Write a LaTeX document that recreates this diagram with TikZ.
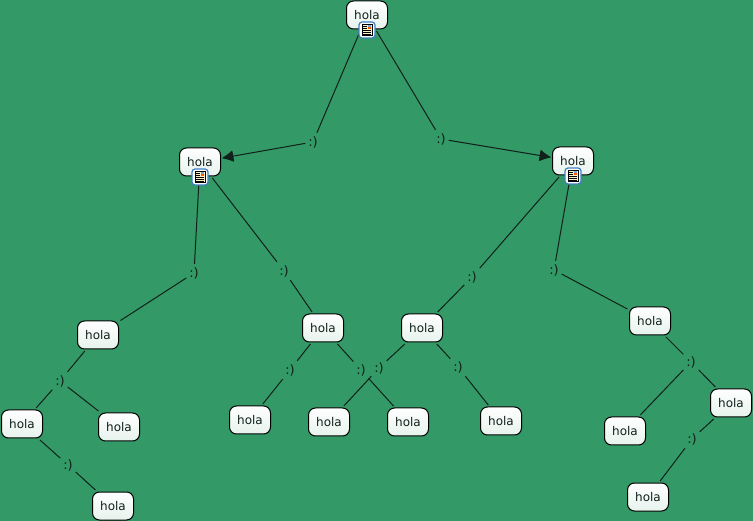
\documentclass[tikz,border=0pt]{standalone}
\usepackage{fontspec}
\setmainfont{DejaVu Sans}
\usetikzlibrary{arrows.meta}
\definecolor{bggreen}{HTML}{339966}
\definecolor{ink}{HTML}{10201A}
\definecolor{iconblue}{HTML}{3F7FC0}
\definecolor{paper}{HTML}{FBF3C8}
\tikzset{x=1pt,y=-1pt,
 hola/.style={draw=black,line width=1pt,rounded corners=7pt,minimum width=41pt,minimum height=28pt,inner sep=0pt,outer sep=2pt,top color=white,bottom color=white!88!bggreen,text=ink,font=\fontsize{12}{14}\selectfont},
 smile/.style={inner sep=0pt,minimum width=15pt,minimum height=18pt,text=ink,font=\fontsize{13}{15}\selectfont},
 link/.style={draw=ink,line width=1pt},
 arrowlink/.style={link,-{Latex[length=12pt,width=12pt,round=false]}},
 iconbox/.style={draw=iconblue,fill=white,line width=1.2pt,rounded corners=3pt,minimum size=16pt,inner sep=0pt}
}
\newcommand{\docicon}[2]{%
 \node[iconbox] (#1) at #2 {};
 \begin{scope}[shift={#2}]
  \fill[paper,draw=black,line width=.9pt] (-5,-5.5) rectangle (5,5.5);
  \fill[iconblue!70!white] (0.5,-4.5) rectangle (4,-2.5);
  \fill[orange!70!red] (0.5,-2.5) rectangle (4,-1);
  \foreach \yy in {-3.5,-1.5,0.5,2.5,4.2}{\draw[black,line width=.6pt] (-3.8,\yy) -- ({\yy<0?-0.5:3.8},\yy);}
 \end{scope}}
\begin{document}
\begin{tikzpicture}
\useasboundingbox[fill=bggreen] (0,0) rectangle (753,521);
\node[hola] (top) at (367,15) {hola};
\node[hola] (L) at (200,162) {hola};
\node[hola] (R) at (573,161) {hola};
\node[hola] (ll) at (98,335) {hola};
\node[hola] (lr) at (323,328) {hola};
\node[hola] (rl) at (422,328) {hola};
\node[hola] (rr) at (650,321) {hola};
\node[hola] (n1) at (22,424) {hola};
\node[hola] (n2) at (119,427) {hola};
\node[hola] (n3) at (113,506) {hola};
\node[hola] (n4) at (250,420) {hola};
\node[hola] (n5) at (329,422) {hola};
\node[hola] (n6) at (408,422) {hola};
\node[hola] (n7) at (501,421) {hola};
\node[hola] (n8) at (625,431) {hola};
\node[hola] (n9) at (731,403) {hola};
\node[hola] (n10) at (648,497) {hola};
\node[smile] (a) at (313,142) {:)};
\node[smile] (b) at (441,139) {:)};
\node[smile] (c) at (194,273) {:)};
\node[smile] (d) at (284,271) {:)};
\node[smile] (e) at (472,277) {:)};
\node[smile] (f) at (554,270) {:)};
\node[smile] (g) at (60,381) {:)};
\node[smile] (h) at (68,465) {:)};
\node[smile] (i) at (290,370) {:)};
\node[smile] (j) at (361,370) {:)};
\node[smile] (k) at (379,368) {:)};
\node[smile] (l) at (458,367) {:)};
\node[smile] (m) at (691,362) {:)};
\node[smile] (o) at (692,439) {:)};
\draw[link] (top) -- (a);
\draw[arrowlink] (a) -- (L);
\draw[link] (top) -- (b);
\draw[arrowlink] (b) -- (R);
\foreach \p/\q in {L/c,c/ll,L/d,d/lr,R/e,e/rl,R/f,f/rr,ll/g,g/n1,g/n2,n1/h,h/n3,lr/i,i/n4,lr/j,j/n6,rl/k,k/n5,rl/l,l/n7,rr/m,m/n8,m/n9,n9/o,o/n10}
 \draw[link] (\p) -- (\q);
\docicon{ic1}{(367,30)}
\docicon{ic2}{(200,177)}
\docicon{ic3}{(573,176)}
\end{tikzpicture}
\end{document}
